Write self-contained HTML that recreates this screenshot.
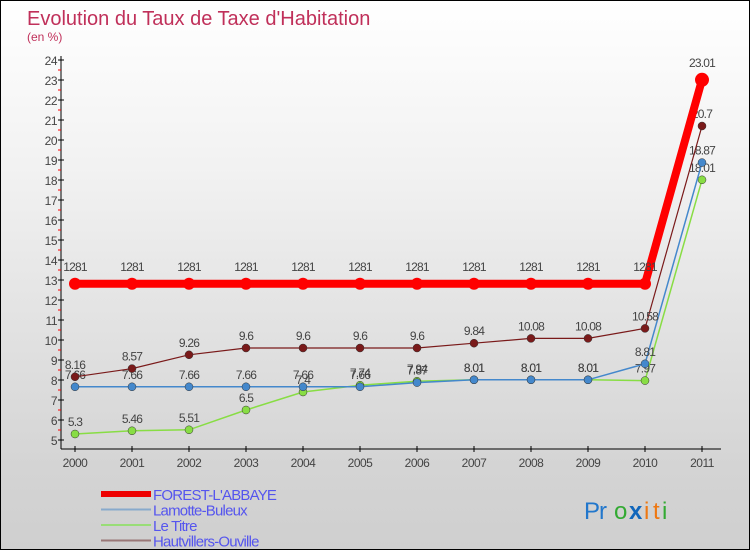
<!DOCTYPE html>
<html><head><meta charset="utf-8"><style>
body{margin:0;}
#c{width:748px;height:548px;border:1px solid #000;background:linear-gradient(#ffffff,#f2f2f2 30%,#d4d4d4 85%,#cfcfcf);position:relative;font-family:"Liberation Sans",sans-serif;overflow:hidden}
svg{position:absolute;left:0;top:0}
</style></head><body>
<div id="c">
<svg id="s" width="748" height="548">
<text x="26" y="24" font-size="20" fill="#c0305a">Evolution du Taux de Taxe d'Habitation</text>
<text x="26" y="40" font-size="12" fill="#c0305a">(en %)</text>
</svg>
</div>
<script>
const years=["2000","2001","2002","2003","2004","2005","2006","2007","2008","2009","2010","2011"];
const yTicks=[5,6,7,8,9,10,11,12,13,14,15,16,17,18,19,20,21,22,23,24];
const forest=[12.81,12.81,12.81,12.81,12.81,12.81,12.81,12.81,12.81,12.81,12.81,23.01];
const lamotte=[7.66,7.66,7.66,7.66,7.66,7.66,7.87,8.01,8.01,8.01,8.81,18.87];
const titre=[5.3,5.46,5.51,6.5,7.4,7.74,7.94,8.01,8.01,8.01,7.97,18.01];
const hautv=[8.16,8.57,9.26,9.6,9.6,9.6,9.6,9.84,10.08,10.08,10.58,20.7];
const NS="http://www.w3.org/2000/svg",s=document.getElementById('s');
const X=i=>74+i*57,Y=v=>439-(v-5)*20;
function el(t,a){const e=document.createElementNS(NS,t);for(const k in a)e.setAttribute(k,a[k]);s.appendChild(e);return e;}
let e;
e=el('line',{x1:60,y1:55,x2:60,y2:448,stroke:'#000'});


e=el('line',{x1:60,y1:448,x2:720,y2:448,stroke:'#000'});


yTicks.forEach(v=>{
 el('line',{x1:57,y1:Y(v),x2:63,y2:Y(v),stroke:'#000'});
 if(v<24)el('line',{x1:57,y1:Y(v+0.5),x2:60,y2:Y(v+0.5),stroke:'#f00'});
 e=el('text',{x:56,y:Y(v)+5,'font-size':12,'text-anchor':'end',fill:'#444','letter-spacing':'-0.5'});e.textContent=v;
 
 
});
years.forEach((y,i)=>{
 el('line',{x1:X(i),y1:445,x2:X(i),y2:451,stroke:'#000'});
 e=el('text',{x:X(i),y:466,'font-size':12,'text-anchor':'middle',fill:'#444','letter-spacing':'-0.5'});e.textContent=y;
 
 
});
function series(d,col,w,r,name){
 e=el('polyline',{points:d.map((v,i)=>X(i)+','+Y(v)).join(' '),fill:'none',stroke:col,'stroke-width':w});
 
 
 d.forEach((v,i)=>{
  e=el('circle',{cx:X(i),cy:Y(v),r:(i==11&&w>4)?7:r,fill:col,stroke:'#333','stroke-width':w>4?0:0.5});
  
  
  e=el('text',{x:X(i),y:Y(v)-(w>4?13:8),'font-size':12,'text-anchor':'middle',fill:'#444','letter-spacing':'-0.8'});
  e.textContent=String(v).replace(/\.?0+$/,'').replace('12.81','1281').replace('23.01','23.01');
  
  
 });
}
series(titre,'#88dd44',1.5,4,'le-titre');
series(lamotte,'#4488cc',1.5,4,'lamotte-buleux');
series(hautv,'#7a1a1a',1.2,4,'hautvillers-ouville');
series(forest,'#ff0000',8,6,'forest-labbaye');
const leg=[['FOREST-L\'ABBAYE','#ee0000',6],['Lamotte-Buleux','#88aacc',2],['Le Titre','#99dd77',2],['Hautvillers-Ouville','#997777',2]];
leg.forEach((l,i)=>{
 const y=493+i*15.5;
 e=el('line',{x1:100,y1:y,x2:150,y2:y,stroke:l[1],'stroke-width':l[2]});
 
 
 e=el('text',{x:152,y:y+6,'font-size':15,fill:'#5555ee','letter-spacing':'-0.8'});e.textContent=l[0];
 
 
});
const logo=[['P','#2277cc'],['r','#2277cc'],['o','#33aa33'],['x','#1166bb'],['i','#ee7711'],['t','#ee7711'],['i','#33aa33']];
let lx=583;
logo.forEach(c=>{e=el('text',{x:lx,y:518,'font-size':24,fill:c[1],'font-weight':c[0]=='x'?'bold':'normal'});e.textContent=c[0];lx+=c[0]=='i'||c[0]=='t'?9:15;

});
</script>
</body></html>
